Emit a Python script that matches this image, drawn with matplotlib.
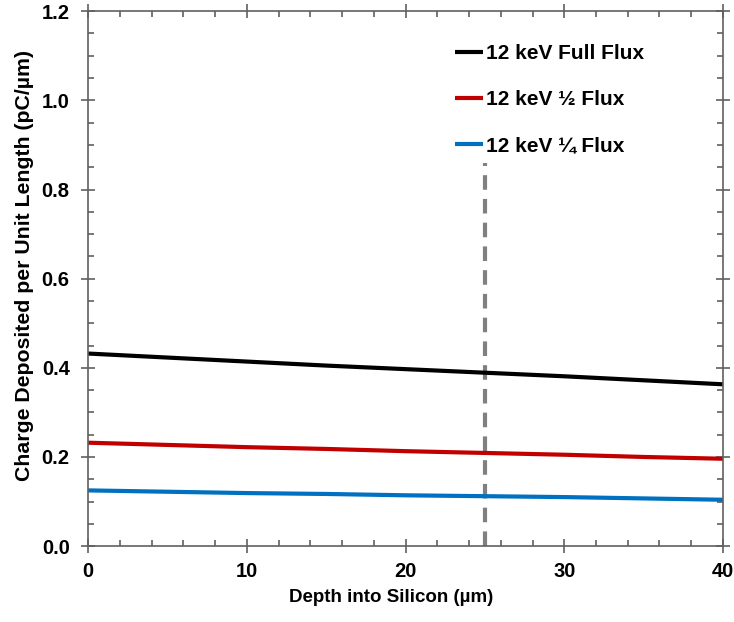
import matplotlib
matplotlib.use("Agg")
import matplotlib.pyplot as plt
from matplotlib.ticker import MultipleLocator, FormatStrFormatter

plt.rcParams['font.family'] = ['Liberation Sans', 'DejaVu Sans']
plt.rcParams['font.weight'] = 'bold'

depth = [0, 5, 10, 15, 20, 25, 30, 35, 40]
full_flux = [0.432, 0.423, 0.414, 0.405, 0.397, 0.389, 0.381, 0.372, 0.363]
half_flux = [0.232, 0.227, 0.222, 0.218, 0.213, 0.209, 0.205, 0.200, 0.196]
quarter_flux = [0.125, 0.122, 0.119, 0.117, 0.114, 0.112, 0.110, 0.107, 0.104]
labels = ["12 keV Full Flux", "12 keV \u00bd Flux", "12 keV \u00bc Flux"]
colors = ["#000000", "#c00000", "#0070c0"]
marker_depth = 25
marker_top = 0.86

fig = plt.figure(figsize=(7.34, 6.22), dpi=100)
ax = fig.add_axes([0.12, 0.122, 0.865, 0.860])

for y, lab, c in zip([full_flux, half_flux, quarter_flux], labels, colors):
    ax.plot(depth, y, color=c, lw=3, label=lab, solid_capstyle='butt')

ax.plot([marker_depth, marker_depth], [0, marker_top], color="#808080", lw=3,
        dashes=(3.5, 2.2), zorder=1)

ax.set_xlim(0, 40)
ax.set_ylim(0, 1.2)
ax.xaxis.set_major_locator(MultipleLocator(10))
ax.xaxis.set_minor_locator(MultipleLocator(2))
ax.yaxis.set_major_locator(MultipleLocator(0.2))
ax.yaxis.set_minor_locator(MultipleLocator(0.05))
ax.yaxis.set_major_formatter(FormatStrFormatter('%.1f'))

for sp in ax.spines.values():
    sp.set_color("#606060")
    sp.set_linewidth(1.2)

ax.tick_params(axis='both', which='major', direction='inout', length=9.4, width=1.2,
               color="#606060", top=True, right=True, labelsize=14.5)
ax.tick_params(axis='y', which='major', pad=8.5)
ax.tick_params(axis='x', which='major', pad=6.5)
ax.tick_params(axis='both', which='minor', direction='in', length=4, width=1.2,
               color="#606060", top=True, right=True)
for t in ax.get_xticklabels() + ax.get_yticklabels():
    t.set_fontweight('bold')

ax.set_xlabel("Depth into Silicon (\u00b5m)", fontsize=13.5, fontweight='bold')
ax.xaxis.set_label_coords(0.478, -0.080)
ax.set_ylabel("Charge Deposited per Unit Length (pC/\u00b5m)", fontsize=15.3,
              fontweight='bold')
ax.yaxis.set_label_coords(-0.085, 0.525)

leg = ax.legend(loc='upper left', bbox_to_anchor=(0.578, 0.938), frameon=False,
                handlelength=1.35, handletextpad=0.15, labelspacing=1.29,
                borderaxespad=0, borderpad=0,
                prop={'weight': 'bold', 'size': 15})

fig.savefig("out.png", dpi=100)
